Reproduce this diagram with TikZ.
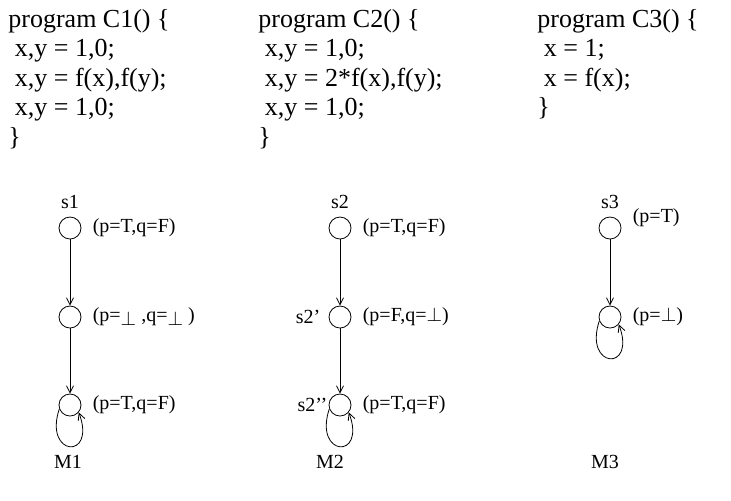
\documentclass[tikz,border=0pt]{standalone}
\usepackage{fontspec}
\setmainfont{Liberation Serif}
\usetikzlibrary{arrows.meta,positioning}
\newcommand{\lowbot}{\lower2pt\hbox{$\perp$}}

\begin{document}
\begin{tikzpicture}[x=0.5pt,y=-0.5pt,>={Straight Barb[length=3.5pt,width=3.5pt]},
    state/.style={circle,draw,thin,minimum size=11pt,inner sep=0pt},
    prop/.style={font=\fontsize{10}{12}\selectfont,inner sep=0pt},
    code/.style={font=\fontsize{13}{14.75}\selectfont,align=left,anchor=north west,inner sep=0pt}]
  \useasboundingbox (0,0) rectangle (731,500);

  \node[code] (C1) at (8,9) {program C1() \{\\ \ x,y = 1,0;\\ \ x,y = f(x),f(y);\\ \ x,y = 1,0;\\ \}};
  \node[code] (C2) at (258,9) {program C2() \{\\ \ x,y = 1,0;\\ \ x,y = 2*f(x),f(y);\\ \ x,y = 1,0;\\ \}};
  \node[code] (C3) at (537,9) {program C3() \{\\ \ x = 1;\\ \ x = f(x);\\ \}};

  \node[state] (s1a) at (70,228) {};
  \node[state] (s1b) at (70,317) {};
  \node[state] (s1c) at (70,405) {};
  \node[prop,above=4pt of s1a] (n1) {s1};
  \node[prop,right=5.5pt of s1a] (l1a) {(p=T,q=F)};
  \node[prop,right=5.5pt of s1b] (l1b) {(p=\lowbot\ ,q=\lowbot\ )};
  \node[prop,right=5.5pt of s1c] (l1c) {(p=T,q=F)};
  \node[prop] (M1) at (68,462) {M1};
  \draw[->] (s1a) -- (s1b);
  \draw[->] (s1b) -- (s1c);
  \draw[->] (s1c.200) .. controls +(-16,48) and +(18,48) .. (s1c.320);

  \node[state] (s2a) at (340,228) {};
  \node[state] (s2b) at (340,317) {};
  \node[state] (s2c) at (340,405) {};
  \node[prop,above=4pt of s2a] (n2) {s2};
  \node[prop,left=4pt of s2b] (n2b) {s2'};
  \node[prop,left=0.5pt of s2c] (n2c) {s2'{}'};
  \node[prop,right=5.5pt of s2a] (l2a) {(p=T,q=F)};
  \node[prop,right=5.5pt of s2b] (l2b) {(p=F,q=$\perp$)};
  \node[prop,right=5.5pt of s2c] (l2c) {(p=T,q=F)};
  \node[prop] (M2) at (330,462) {M2};
  \draw[->] (s2a) -- (s2b);
  \draw[->] (s2b) -- (s2c);
  \draw[->] (s2c.200) .. controls +(-16,48) and +(18,48) .. (s2c.320);

  \node[state] (s3a) at (610,228) {};
  \node[state] (s3b) at (610,317) {};
  \node[prop,above=4pt of s3a] (n3) {s3};
  \node[prop,right=5.5pt of s3a,yshift=5pt] (l3a) {(p=T)};
  \node[prop,right=5.5pt of s3b] (l3b) {(p=$\perp$)};
  \node[prop] (M3) at (605,462) {M3};
  \draw[->] (s3a) -- (s3b);
  \draw[->] (s3b.200) .. controls +(-16,48) and +(18,48) .. (s3b.320);
\end{tikzpicture}
\end{document}
